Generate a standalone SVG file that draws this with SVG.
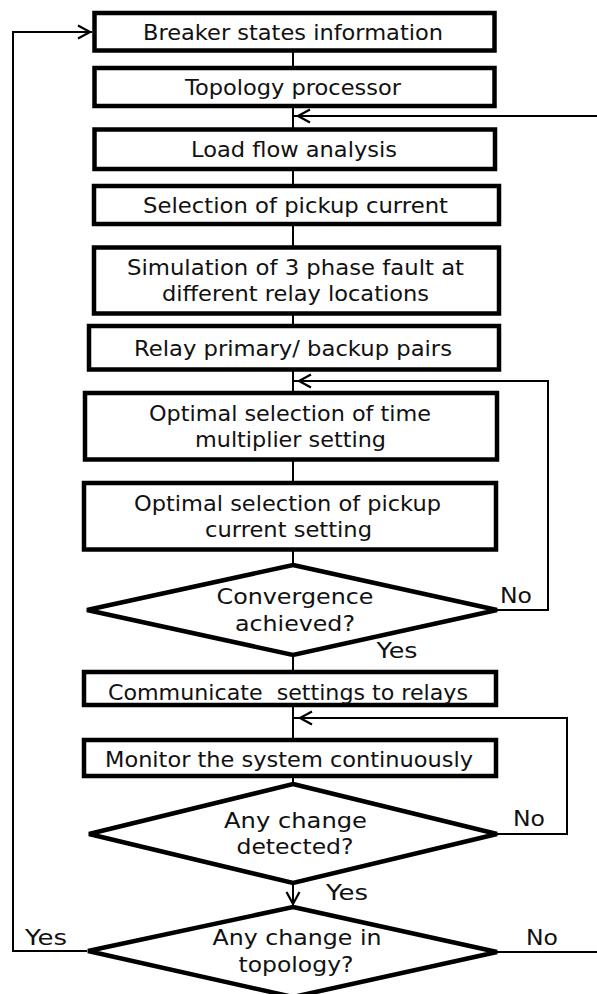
<svg xmlns="http://www.w3.org/2000/svg" width="597" height="994" viewBox="0 0 597 994">
  <style>
    .box { fill: #ffffff; stroke: #000000; stroke-width: 4.5; }
    .dia { fill: #ffffff; stroke: #000000; stroke-width: 4.5; stroke-linejoin: miter; }
    .wire { fill: none; stroke: #000000; stroke-width: 2; }
    .head { fill: none; stroke: #000000; stroke-width: 2.2; stroke-linejoin: miter; }
    text { font-family: "DejaVu Sans", "Liberation Sans", sans-serif; font-size: 20.5px; fill: #111111; text-anchor: middle; }
    .keep { white-space: pre; }
  </style>
  <rect width="597" height="994" fill="#ffffff"/>

  <!-- connectors -->
  <g id="connectors">
    <path class="wire" d="M293,51 V68 M293,106 V129 M293,169 V186 M293,224 V247 M293,313 V326 M293,370 V393 M293,459 V483 M293,549 V565 M293,655 V672 M293,705 V740 M293,776 V784 M293,883 V905"/>
    <!-- feedback from the right into the load flow step -->
    <path class="wire" d="M597,116 H294"/>
    <path class="head" d="M310,109.5 L298,116 L310,122.5"/>
    <!-- convergence loop -->
    <path class="wire" d="M497,610 H548 V381 H294"/>
    <path class="head" d="M311,374.5 L299,381 L311,387.5"/>
    <!-- monitoring loop -->
    <path class="wire" d="M497,834 H567 V718 H294"/>
    <path class="head" d="M312,711.5 L300,718 L312,724.5"/>
    <!-- change detected -->
    <path class="head" d="M286.5,892 L293,904 L299.5,892"/>
    <!-- topology changed: back to the start -->
    <path class="wire" d="M87,951 H13 V32 H92"/>
    <path class="head" d="M78,25.5 L90,32 L78,38.5"/>
    <!-- topology unchanged -->
    <path class="wire" d="M497,952 H597"/>
  </g>

  <g id="breaker-states">
    <rect class="box" x="94.5" y="13" width="400" height="37.5"/>
    <text x="293" y="39.5" textLength="300" lengthAdjust="spacingAndGlyphs">Breaker states information</text>
  </g>
  <g id="topology-processor">
    <rect class="box" x="94.5" y="68" width="400" height="38"/>
    <text x="293" y="95" textLength="216" lengthAdjust="spacingAndGlyphs">Topology processor</text>
  </g>
  <g id="load-flow">
    <rect class="box" x="94.5" y="129.5" width="400.5" height="39.5"/>
    <text x="294" y="156.5" textLength="206" lengthAdjust="spacingAndGlyphs">Load flow analysis</text>
  </g>
  <g id="pickup-current">
    <rect class="box" x="94" y="186" width="405" height="38"/>
    <text x="295.5" y="212.5" textLength="305" lengthAdjust="spacingAndGlyphs">Selection of pickup current</text>
  </g>
  <g id="fault-simulation">
    <rect class="box" x="94" y="247.5" width="405" height="66"/>
    <text x="295.5" y="275" textLength="337" lengthAdjust="spacingAndGlyphs">Simulation of 3 phase fault at</text>
    <text x="295.5" y="301" textLength="267" lengthAdjust="spacingAndGlyphs">different relay locations</text>
  </g>
  <g id="relay-pairs">
    <rect class="box" x="89" y="326" width="410" height="43.5"/>
    <text x="293" y="355.5" textLength="318" lengthAdjust="spacingAndGlyphs">Relay primary/ backup pairs</text>
  </g>
  <g id="tms-selection">
    <rect class="box" x="85" y="393" width="412" height="66.5"/>
    <text x="290" y="420.5" textLength="282" lengthAdjust="spacingAndGlyphs">Optimal selection of time</text>
    <text x="290.5" y="446.5" textLength="191" lengthAdjust="spacingAndGlyphs">multiplier setting</text>
  </g>
  <g id="pickup-selection">
    <rect class="box" x="84" y="483" width="412" height="66.5"/>
    <text x="287.5" y="510.5" textLength="307" lengthAdjust="spacingAndGlyphs">Optimal selection of pickup</text>
    <text x="288.5" y="536.5" textLength="167" lengthAdjust="spacingAndGlyphs">current setting</text>
  </g>
  <g id="convergence">
    <polygon class="dia" points="293,565 497,610 293,655 87,610"/>
    <text x="295" y="603.5" textLength="157" lengthAdjust="spacingAndGlyphs">Convergence</text>
    <text x="295" y="630.5" textLength="120" lengthAdjust="spacingAndGlyphs">achieved?</text>
    <text x="516" y="603" textLength="32" lengthAdjust="spacingAndGlyphs">No</text>
    <text x="397" y="658" textLength="41" lengthAdjust="spacingAndGlyphs">Yes</text>
  </g>
  <g id="communicate">
    <rect class="box" x="84" y="672" width="412" height="33"/>
    <text class="keep" x="288" y="700" textLength="360" lengthAdjust="spacingAndGlyphs">Communicate  settings to relays</text>
  </g>
  <g id="monitor">
    <rect class="box" x="84" y="740" width="412" height="36"/>
    <text x="289" y="767" textLength="368" lengthAdjust="spacingAndGlyphs">Monitor the system continuously</text>
  </g>
  <g id="change-detected">
    <polygon class="dia" points="293,784 497,834 293,883 89,834"/>
    <text x="295.5" y="828" textLength="143" lengthAdjust="spacingAndGlyphs">Any change</text>
    <text x="295" y="854" textLength="117" lengthAdjust="spacingAndGlyphs">detected?</text>
    <text x="529" y="826" textLength="32" lengthAdjust="spacingAndGlyphs">No</text>
    <text x="347" y="900" textLength="42" lengthAdjust="spacingAndGlyphs">Yes</text>
  </g>
  <g id="topology-change">
    <polygon class="dia" points="293,907 497,952 293,997 88,951"/>
    <text x="297" y="945" textLength="169" lengthAdjust="spacingAndGlyphs">Any change in</text>
    <text x="296" y="972" textLength="115" lengthAdjust="spacingAndGlyphs">topology?</text>
    <text x="46" y="945" textLength="42" lengthAdjust="spacingAndGlyphs">Yes</text>
    <text x="542" y="945" textLength="32" lengthAdjust="spacingAndGlyphs">No</text>
  </g>
</svg>
